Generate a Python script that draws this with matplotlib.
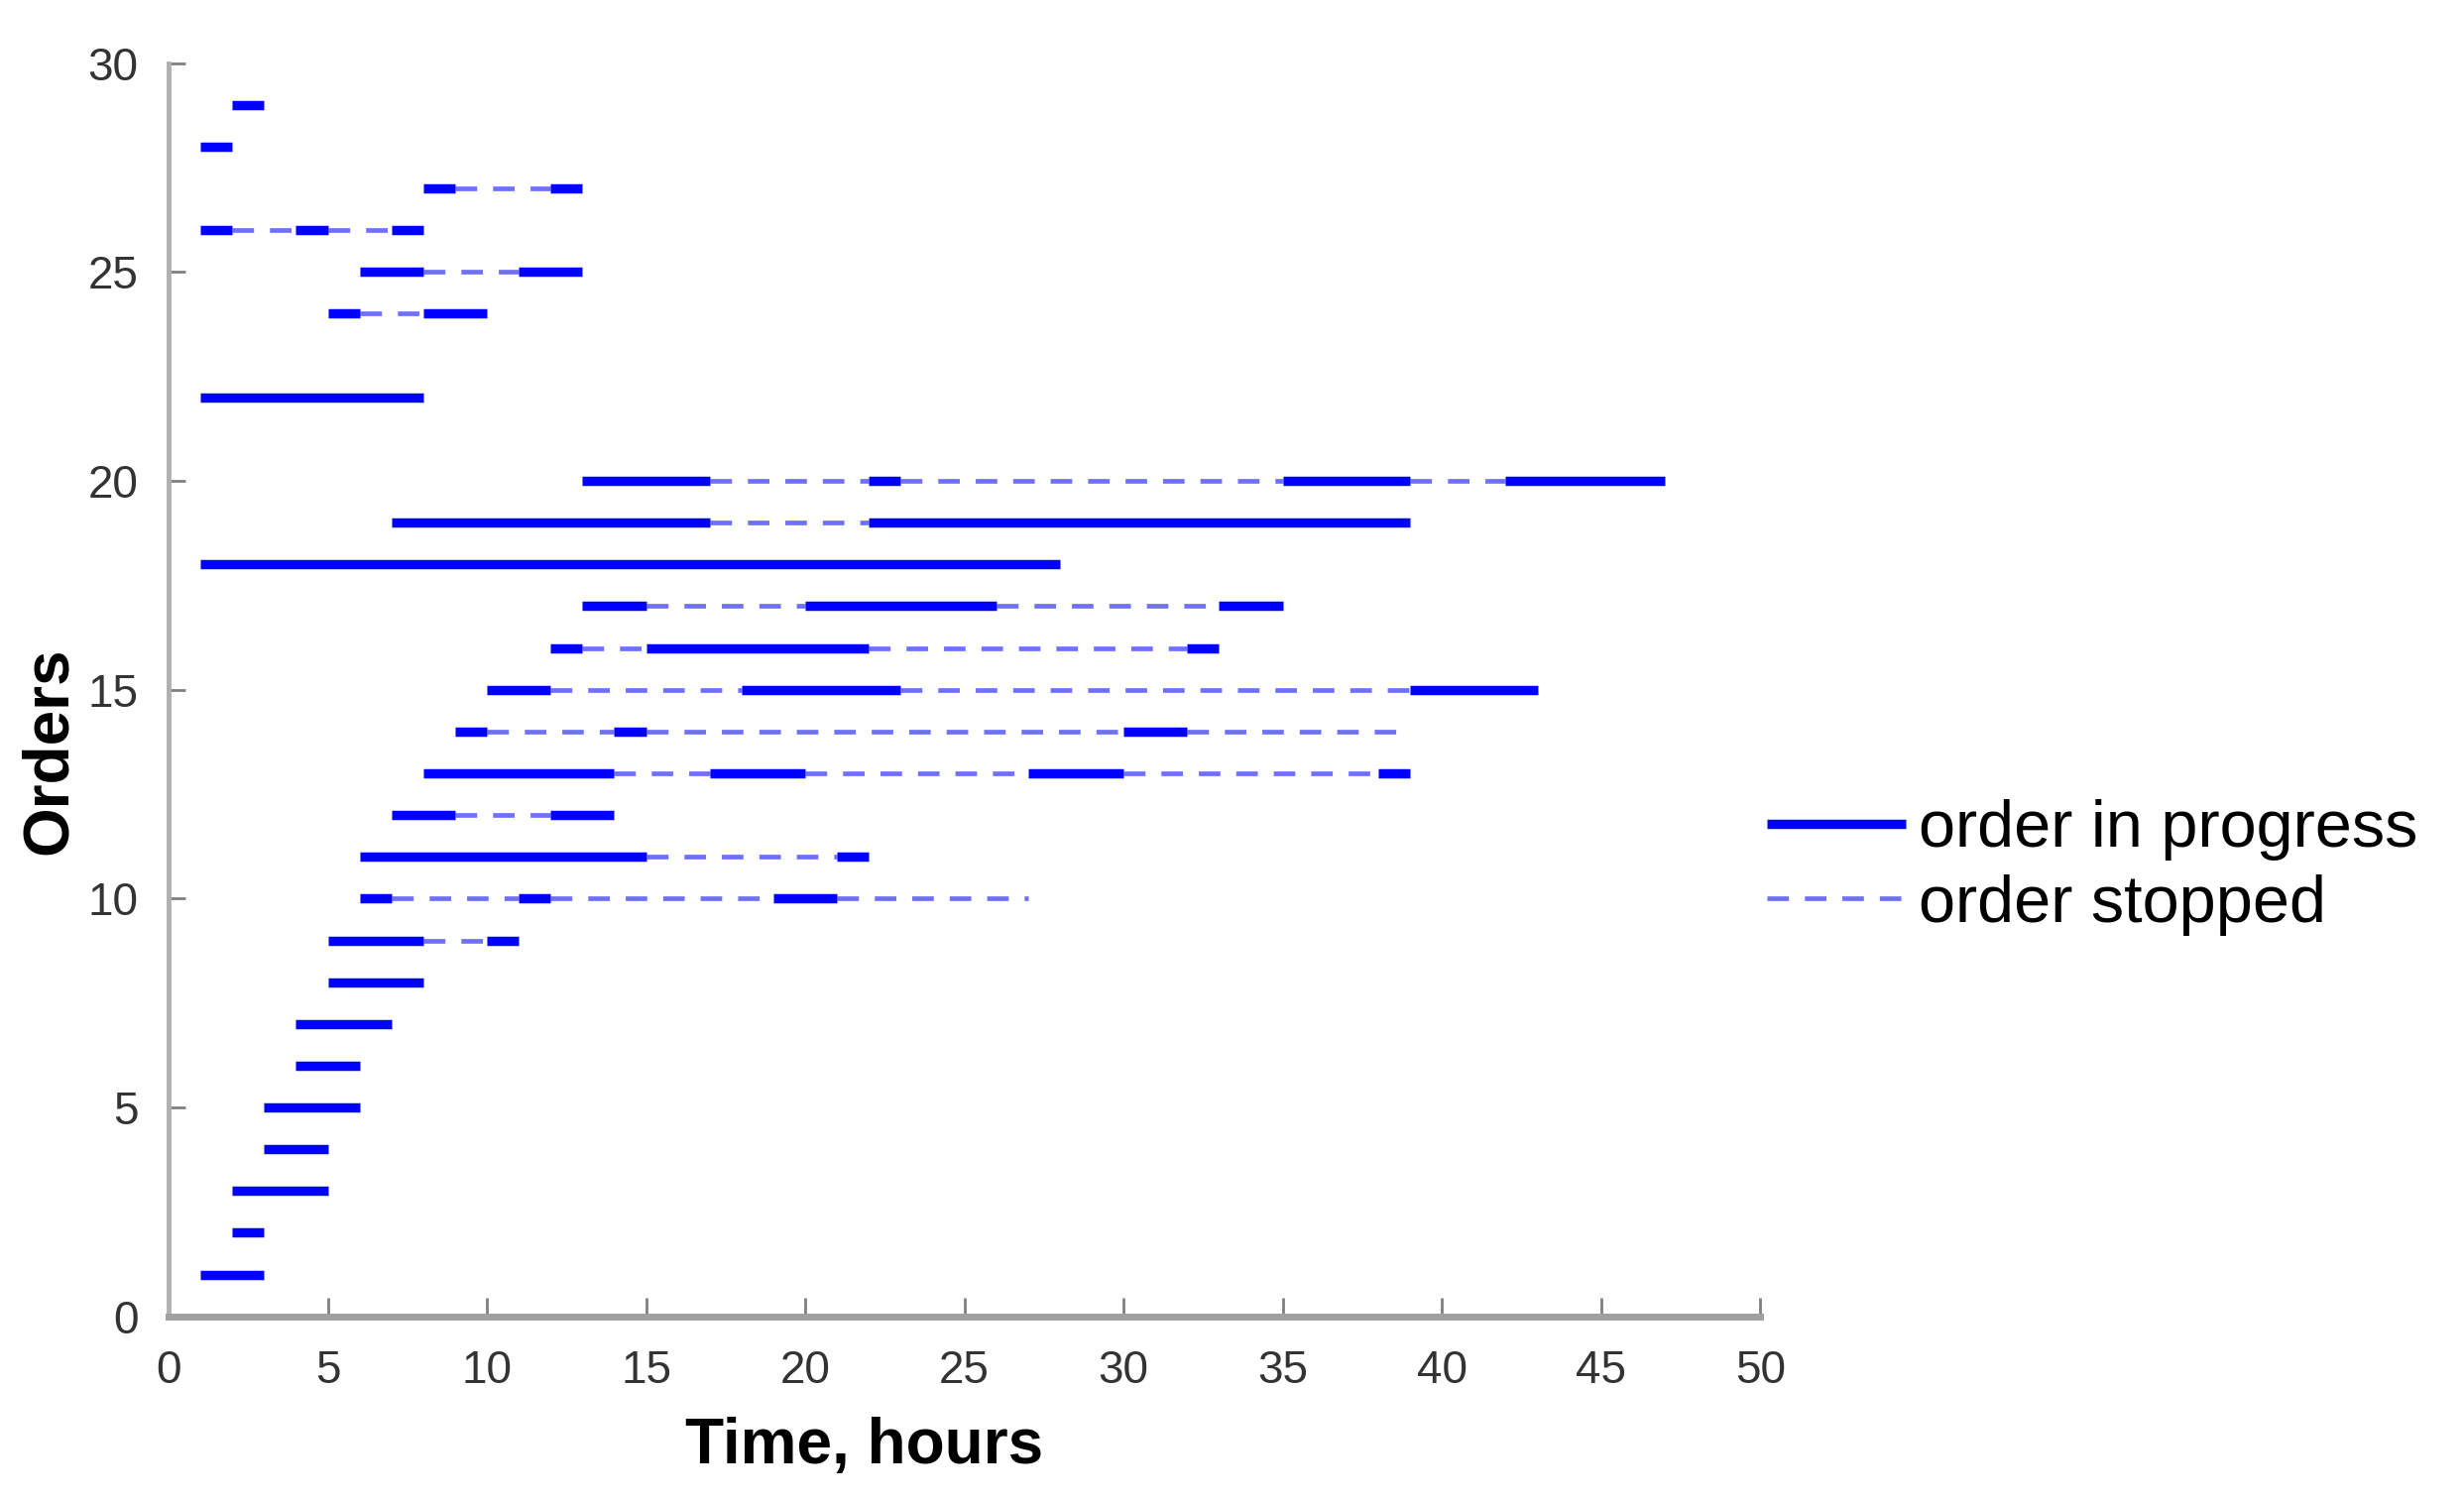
import matplotlib.pyplot as plt

# order number and the hours where its state switches:
# progress, stopped, progress, stopped, ...
order_ids = [1, 2, 3, 4, 5, 6, 7, 8, 9, 10, 11, 12, 13, 14, 15, 16, 17, 18, 19, 20,
             22, 24, 25, 26, 27, 28, 29]
order_times = [
    [1, 3],
    [2, 3],
    [2, 5],
    [3, 5],
    [3, 6],
    [4, 6],
    [4, 7],
    [5, 8],
    [5, 8, 10, 11],
    [6, 7, 11, 12, 19, 21, 27],
    [6, 15, 21, 22],
    [7, 9, 12, 14],
    [8, 14, 17, 20, 27, 30, 38, 39],
    [9, 10, 14, 15, 30, 32, 39],
    [10, 12, 18, 23, 39, 43],
    [12, 13, 15, 22, 32, 33],
    [13, 15, 20, 26, 33, 35],
    [1, 28],
    [7, 17, 22, 39],
    [13, 17, 22, 23, 35, 39, 42, 47],
    [1, 8],
    [5, 6, 8, 10],
    [6, 8, 11, 13],
    [1, 2, 4, 5, 7, 8],
    [8, 9, 12, 13],
    [1, 2],
    [2, 3],
]

run_color = '#0000ff'
stop_color = '#7070ff'

fig = plt.figure(figsize=(24.85, 15.14), dpi=100)
ax = fig.add_axes([0.0684, 0.123, 0.646, 0.835])

for oid, t in zip(order_ids, order_times):
    for i in range(len(t) - 1):
        if i % 2 == 0:
            ax.plot([t[i], t[i + 1]], [oid, oid], color=run_color, lw=6.8,
                    solid_capstyle='butt', zorder=3)
        else:
            ax.plot([t[i], t[i + 1]], [oid, oid], color=stop_color, lw=3.4,
                    dashes=(4.6, 3.4), dash_capstyle='butt', zorder=2)

ax.set_xlim(0, 50)
ax.set_ylim(0, 30)
ax.set_xticks(range(0, 51, 5))
ax.set_yticks(range(0, 31, 5))

for s in ['top', 'right']:
    ax.spines[s].set_visible(False)
ax.spines['left'].set_color('#b0b0b0')
ax.spines['left'].set_linewidth(3.5)
ax.spines['bottom'].set_color('#a0a0a0')
ax.spines['bottom'].set_linewidth(5)

ax.tick_params(axis='both', direction='in', color='#808080', width=2,
               labelsize=33, labelcolor='#333333')
ax.tick_params(axis='x', length=14, pad=24)
ax.tick_params(axis='y', length=12, pad=22)
for lab in ax.get_xticklabels() + ax.get_yticklabels():
    lab.set_family('Liberation Sans')

ax.set_xlabel('Time, hours', fontsize=46, fontweight='bold',
              family='Liberation Sans')
ax.set_ylabel('Orders', fontsize=46, fontweight='bold',
              family='Liberation Sans')
ax.xaxis.set_label_coords(0.437, -0.08)
ax.yaxis.set_label_coords(-0.056, 0.451)

h1, = ax.plot([], [], color=run_color, lw=6.8, solid_capstyle='butt')
h2, = ax.plot([], [], color=stop_color, lw=3.4, dashes=(4.6, 3.4))
fig.legend([h1, h2], ['order in progress', 'order stopped'],
           loc='center left', bbox_to_anchor=(0.693, 0.422), frameon=False,
           prop={'family': 'Liberation Sans', 'size': 48},
           handlelength=2.1, handletextpad=0.2, labelspacing=0.2)

fig.savefig('out.png', dpi=100)
